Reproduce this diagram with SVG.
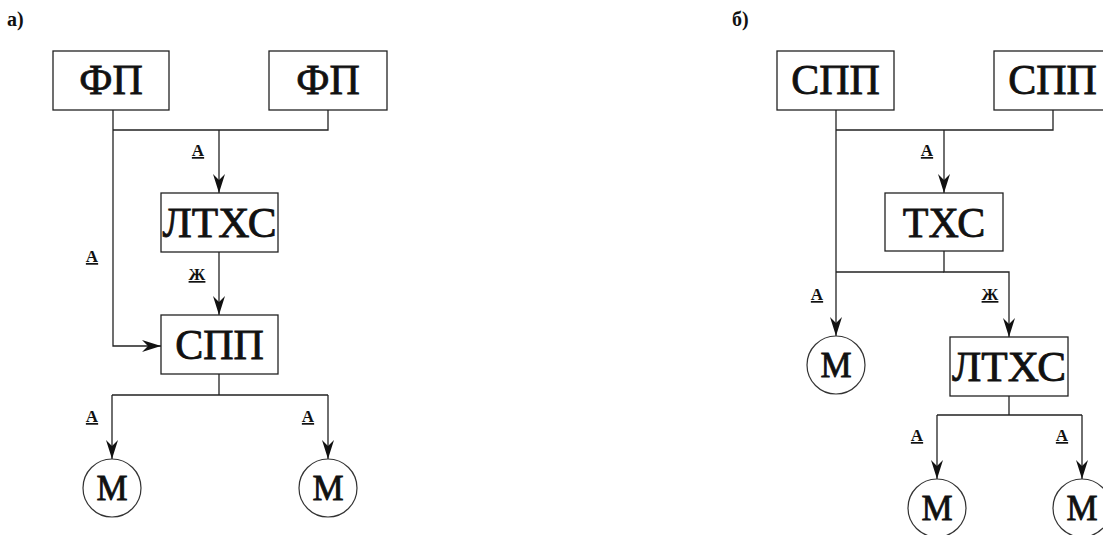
<svg xmlns="http://www.w3.org/2000/svg" width="1103" height="535" viewBox="0 0 1103 535">
<style>
.box{fill:#fff;stroke:#222;stroke-width:1.3}
.circ{fill:#fff;stroke:#333;stroke-width:1.2}
.nt{font-family:"Liberation Serif","Times New Roman",serif;font-size:42px;fill:#111;stroke:#111;stroke-width:0.8;text-anchor:middle}
.mt{font-family:"Liberation Serif","Times New Roman",serif;font-size:35px;fill:#111;stroke:#111;stroke-width:0.8;text-anchor:middle}
.lbl{font-family:"Liberation Serif","Times New Roman",serif;font-size:17px;font-weight:bold;fill:#111;text-anchor:middle;text-decoration:underline}
.pl{font-family:"Liberation Serif","Times New Roman",serif;font-size:20px;font-weight:bold;fill:#111}
.c{fill:none;stroke:#222;stroke-width:1.3}
.ca{fill:none;stroke:#222;stroke-width:1.3;marker-end:url(#ah)}
</style>
<defs>
<marker id="ah" markerUnits="userSpaceOnUse" viewBox="-19 -7 20 14" refX="0" refY="0" markerWidth="20" markerHeight="14" orient="auto">
<path d="M0,0 L-19,-6 L-13,0 L-19,6 Z" fill="#111"/>
</marker>
</defs>
<rect width="1103" height="535" fill="#fff"/>
<text class="pl" x="7" y="26">а)</text>
<text class="pl" x="732" y="26">б)</text>

<g id="connectors">
<path class="c" d="M328,110 V130 H113"/>
<path class="ca" d="M113,110 V346 H161"/>
<path class="ca" d="M219,130 V193"/>
<path class="ca" d="M219,252 V315"/>
<path class="c" d="M219,374 V395 M112,395 H328"/>
<path class="ca" d="M112,395 V459"/>
<path class="ca" d="M328,395 V459"/>
<path class="c" d="M1053,110 V130 H836"/>
<path class="ca" d="M836,110 V336"/>
<path class="ca" d="M944,130 V193"/>
<path class="ca" d="M944,251 V272 H1009 V337"/>
<path class="c" d="M944,272 H836"/>
<path class="c" d="M1009,396 V415 M937,415 H1082"/>
<path class="ca" d="M937,415 V479"/>
<path class="ca" d="M1082,415 V479"/>
<text class="lbl" x="198" y="156">А</text>
<text class="lbl" x="92" y="262">А</text>
<text class="lbl" x="197" y="280">Ж</text>
<text class="lbl" x="92" y="422">А</text>
<text class="lbl" x="308" y="422">А</text>
<text class="lbl" x="927" y="156">А</text>
<text class="lbl" x="817" y="300">А</text>
<text class="lbl" x="990" y="300">Ж</text>
<text class="lbl" x="917" y="441">А</text>
<text class="lbl" x="1062" y="441">А</text>
</g>

<g id="fp1"><rect class="box" x="53" y="51" width="116" height="59"/><text class="nt" x="111" y="94">ФП</text></g>
<g id="fp2"><rect class="box" x="269" y="51" width="118" height="59"/><text class="nt" x="328" y="94">ФП</text></g>
<g id="ltxs1"><rect class="box" x="161" y="193" width="117" height="59"/><text class="nt" x="219.5" y="237" textLength="114" lengthAdjust="spacingAndGlyphs">ЛТХС</text></g>
<g id="spp1"><rect class="box" x="161" y="315" width="117" height="59"/><text class="nt" x="219.5" y="359">СПП</text></g>
<g id="m1"><circle class="circ" cx="112" cy="488" r="29"/><text class="mt" x="112" y="500">М</text></g>
<g id="m2"><circle class="circ" cx="328" cy="488" r="29"/><text class="mt" x="328" y="500">М</text></g>

<g id="spp2"><rect class="box" x="777" y="51" width="117" height="59"/><text class="nt" x="835.5" y="94">СПП</text></g>
<g id="spp3"><rect class="box" x="994" y="51" width="117" height="59"/><text class="nt" x="1052.5" y="94">СПП</text></g>
<g id="txs"><rect class="box" x="885" y="193" width="118" height="58"/><text class="nt" x="944" y="237">ТХС</text></g>
<g id="ltxs2"><rect class="box" x="950" y="337" width="118" height="59"/><text class="nt" x="1009" y="381" textLength="114" lengthAdjust="spacingAndGlyphs">ЛТХС</text></g>
<g id="m3"><circle class="circ" cx="836" cy="365" r="29"/><text class="mt" x="836" y="377">М</text></g>
<g id="m4"><circle class="circ" cx="937" cy="508" r="29"/><text class="mt" x="937" y="520">М</text></g>
<g id="m5"><circle class="circ" cx="1082" cy="508" r="29"/><text class="mt" x="1082" y="520">М</text></g>
</svg>
